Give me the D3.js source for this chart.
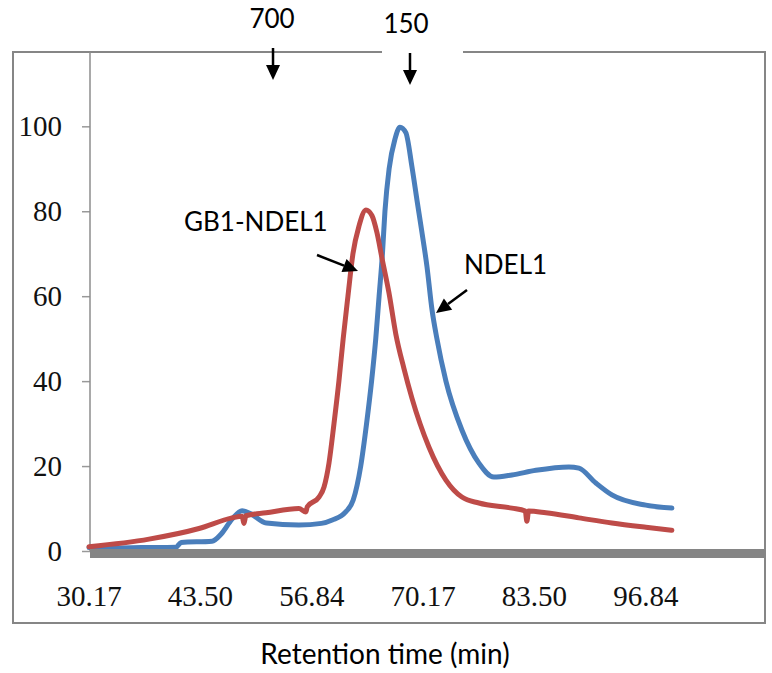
<!DOCTYPE html>
<html>
<head>
<meta charset="utf-8">
<script src="https://cdn.jsdelivr.net/npm/d3@7"></script>
<style>
  body { margin: 0; background: #fff; }
</style>
</head>
<body>
<div id="content"></div>
<script>
// retention time (min) / absorbance (%)
const ndel1Time = [30.17, 33.0, 36.5, 40.6, 41.2, 44.9, 46.0, 47.3, 48.5, 49.5, 51.4, 55.3, 58.0, 59.3, 60.9, 61.8, 62.7, 63.4, 64.0, 64.5, 64.9, 65.3, 65.6, 66.1, 66.8, 67.4, 68.1, 68.83, 69.43, 70.03, 70.63, 71.22, 71.82, 72.9, 74.81, 76.85, 78.64, 80.8, 83.67, 87.62, 88.82, 90.85, 92.77, 96.84, 99.95];
const ndel1Abs  = [0.8, 0.7, 0.8, 0.9, 2.0, 2.3, 4.0, 7.5, 9.5, 8.8, 6.6, 6.1, 6.5, 7.3, 9.2, 12.0, 20.0, 30.0, 40.0, 50.0, 60.0, 70.0, 80.0, 90.0, 97.0, 99.8, 98.5, 90.5, 82.7, 75.0, 67.0, 57.0, 50.0, 40.0, 28.5, 20.7, 17.4, 17.9, 19.0, 19.8, 19.5, 16.0, 13.2, 10.8, 10.1];

const gb1Time = [30.17, 37.35, 43.34, 47.29, 48.5, 48.72, 48.95, 51.36, 55.3, 56.14, 56.3, 57.7, 58.3, 58.9, 59.5, 60.09, 60.6, 61.17, 61.77, 62.49, 63.32, 64.04, 64.64, 65.24, 66.08, 66.91, 67.87, 68.83, 70.86, 72.9, 74.81, 76.85, 80.8, 82.4, 82.59, 82.8, 84.87, 88.82, 92.77, 96.84, 99.95];
const gb1Abs  = [1.0, 2.8, 5.3, 7.8, 8.2, 6.5, 8.3, 9.0, 10.0, 9.2, 10.4, 12.7, 15.0, 20.7, 30.0, 40.0, 50.0, 60.0, 70.0, 76.5, 80.3, 79.0, 75.0, 69.0, 60.8, 51.0, 43.0, 36.0, 24.5, 16.7, 12.7, 11.3, 10.1, 9.4, 7.0, 9.4, 9.0, 7.8, 6.6, 5.6, 4.9];

const xTickLabels = ["30.17", "43.50", "56.84", "70.17", "83.50", "96.84"];
const yTickValues = [0, 20, 40, 60, 80, 100];

// marker labels above the plot (kDa standards)
const markerLabels = ["700", "150"];
const markerTimes  = [52.2, 68.6];

const W = 772, H = 673;
const plot = { left: 90, right: 765, top: 52, bottom: 551 };

const x = d3.scaleLinear()
    .domain([30.17, 111.1])
    .range([89, plot.right]);
const y = d3.scaleLinear()
    .domain([0, 117.5])
    .range([plot.bottom, plot.top]);

const svg = d3.select("#content")
    .append("svg")
    .attr("width", W)
    .attr("height", H);

svg.append("rect")
    .attr("width", W)
    .attr("height", H)
    .attr("fill", "#fff");

// outer chart border
svg.append("rect")
    .attr("x", 13).attr("y", 52)
    .attr("width", 752).attr("height", 571)
    .attr("fill", "none")
    .attr("stroke", "#868686")
    .attr("stroke-width", 2);

// the text box of "150" hides part of the top border
svg.append("rect")
    .attr("x", 382).attr("y", 46)
    .attr("width", 81).attr("height", 8)
    .attr("fill", "#fff");

// y axis
const yAxis = svg.append("g")
    .attr("transform", "translate(" + plot.left + ",0)")
    .call(d3.axisLeft(y).tickValues(yTickValues).tickSize(8).tickPadding(20));
yAxis.select(".domain").remove();
yAxis.selectAll(".tick line").attr("stroke", "#999").attr("stroke-width", 1.5);
yAxis.selectAll(".tick text")
    .attr("font-family", "Liberation Serif, serif")
    .attr("font-size", 29)
    .attr("fill", "#111");

svg.append("line")
    .attr("x1", plot.left).attr("x2", plot.left)
    .attr("y1", plot.top).attr("y2", plot.bottom)
    .attr("stroke", "#8c8c8c")
    .attr("stroke-width", 1.5);

// x axis labels (category style, no tick marks)
svg.append("g").selectAll("text")
    .data(xTickLabels)
    .enter().append("text")
        .attr("x", d => x(+d))
        .attr("y", 606)
        .attr("text-anchor", "middle")
        .attr("font-family", "Liberation Serif, serif")
        .attr("font-size", 29)
        .attr("fill", "#111")
        .text(d => d);

const line = d3.line()
    .x(d => x(d[0]))
    .y(d => y(d[1]))
    .curve(d3.curveMonotoneX);

const ndel1 = d3.zip(ndel1Time, ndel1Abs);
const gb1 = d3.zip(gb1Time, gb1Abs);

svg.append("path")
    .datum(ndel1)
    .attr("d", line)
    .attr("fill", "none")
    .attr("stroke", "#4a7ebb")
    .attr("stroke-width", 5)
    .attr("stroke-linejoin", "round")
    .attr("stroke-linecap", "round");

svg.append("path")
    .datum(gb1)
    .attr("d", line)
    .attr("fill", "none")
    .attr("stroke", "#be4b48")
    .attr("stroke-width", 5)
    .attr("stroke-linejoin", "round")
    .attr("stroke-linecap", "round");

// thick grey x axis line drawn on top of the curves
svg.append("rect")
    .attr("x", plot.left)
    .attr("y", y(0) - 2)
    .attr("width", plot.right - plot.left)
    .attr("height", 9)
    .attr("fill", "#858585");

function arrow(x1, y1, x2, y2) {
    const a = Math.atan2(y2 - y1, x2 - x1);
    const len = 15, half = 7;
    const bx = x2 - len * Math.cos(a), by = y2 - len * Math.sin(a);
    svg.append("line")
        .attr("x1", x1).attr("y1", y1)
        .attr("x2", bx).attr("y2", by)
        .attr("stroke", "#000")
        .attr("stroke-width", 2.5);
    const pts = [
        [x2, y2],
        [bx + half * Math.sin(a), by - half * Math.cos(a)],
        [bx - half * Math.sin(a), by + half * Math.cos(a)]
    ];
    svg.append("path")
        .attr("d", "M" + pts.map(p => p.join(",")).join("L") + "Z")
        .attr("fill", "#000");
}

const annotFont = "Lato, 'Open Sans', sans-serif";

// size markers
const markerX = markerTimes.map(t => x(t));
svg.append("text")
    .attr("x", markerX[0] - 1).attr("y", 28)
    .attr("text-anchor", "middle")
    .attr("font-family", annotFont).attr("font-size", 26)
    .text(markerLabels[0]);
svg.append("text")
    .attr("x", markerX[1] - 4).attr("y", 33)
    .attr("text-anchor", "middle")
    .attr("font-family", annotFont).attr("font-size", 26)
    .text(markerLabels[1]);
arrow(markerX[0], 48, markerX[0], 80);
arrow(markerX[1], 53, markerX[1], 85);

// series labels
svg.append("text")
    .attr("x", 184).attr("y", 231)
    .attr("font-family", annotFont).attr("font-size", 26)
    .text("GB1-NDEL1");
arrow(317, 255, 358, 271);

svg.append("text")
    .attr("x", 464).attr("y", 274)
    .attr("font-family", annotFont).attr("font-size", 26)
    .text("NDEL1");
arrow(467, 290, 436, 313);

svg.append("text")
    .attr("x", 385).attr("y", 664)
    .attr("text-anchor", "middle")
    .attr("font-family", annotFont).attr("font-size", 28)
    .text("Retention time (min)");
</script>
</body>
</html>
